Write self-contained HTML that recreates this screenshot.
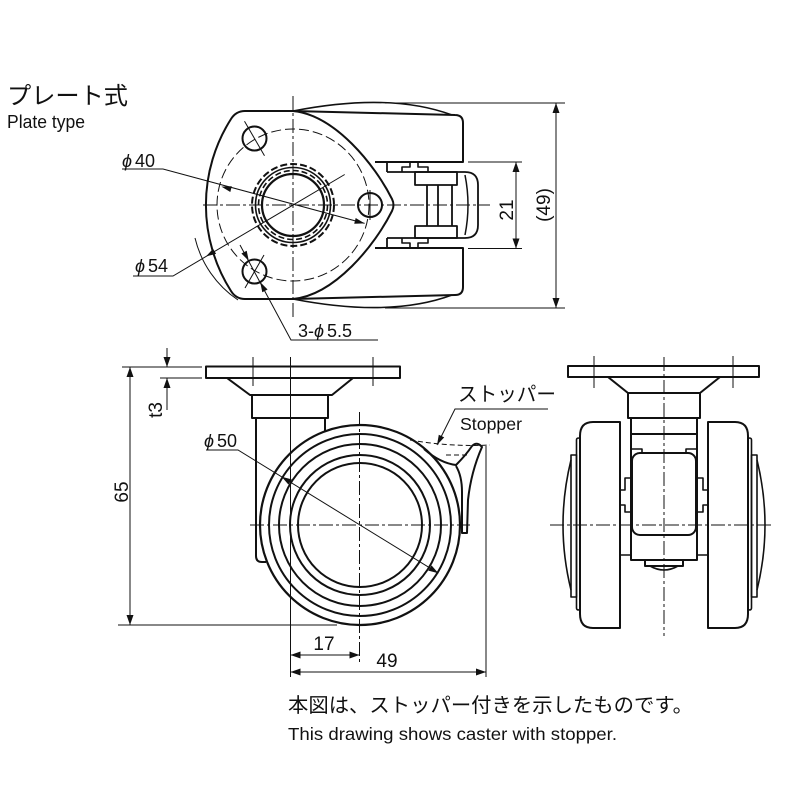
<!DOCTYPE html>
<html><head><meta charset="utf-8"><style>
html,body{margin:0;padding:0;background:#fff;}
svg{display:block;}
text{font-family:"Liberation Sans","DejaVu Sans","Noto Sans CJK JP",sans-serif;fill:#111;}
.jp{font-family:"Liberation Sans","Noto Sans CJK JP",sans-serif;}
</style></head><body>
<svg width="800" height="800" viewBox="0 0 800 800" xmlns="http://www.w3.org/2000/svg">
<rect width="800" height="800" fill="#fff"/>

<!-- ============ TOP VIEW ============ -->
<g fill="none" stroke="#111" stroke-width="1" stroke-dasharray="14 3 3 3">
  <line x1="203" y1="205" x2="490" y2="205"/>
  <line x1="293" y1="96" x2="293" y2="318"/>
</g>
<g fill="none" stroke="#111" stroke-width="2" stroke-linejoin="round">
  <path d="M245 111 L293 111 C335 115 375 165 392 199 Q395 205 392 211 C375 245 335 295 293 299 L245 299 Q236 299 231 291 A160 160 0 0 1 231 119 Q236 111 245 111 Z"/>
  <path d="M293 111 L455 115 Q463 115 463 123 L463 162 L375 162"/>
  <path d="M293 299 L455 295 Q463 295 463 287 L463 248 L375 248"/>
  <path d="M293 111 Q390 92 452 115" stroke-width="1.6"/>
  <path d="M293 299 Q390 318 452 295" stroke-width="1.6"/>
  <path d="M387 162 L387 172 M387 172 L465 172 Q478 172 478 185 L478 225 Q478 238 465 238 L387 238 M387 238 L387 248" stroke-width="1.8"/>
  <path d="M465 175 Q471 205 465 235" stroke-width="1.5"/>
  <path d="M402 172 L402 167 L410 167 L410 162 M418 162 L418 167 L428 167 L428 172" stroke-width="1.6"/>
  <path d="M402 238 L402 243 L410 243 L410 248 M418 248 L418 243 L428 243 L428 238" stroke-width="1.6"/>
  <rect x="415" y="172" width="42" height="13" stroke-width="1.8"/>
  <rect x="415" y="226" width="42" height="12" stroke-width="1.8"/>
  <path d="M427 185 L427 226 M438 185 L438 226 M452 185 L452 226" stroke-width="1.8"/>
  <circle cx="293" cy="205" r="41" stroke-dasharray="7 3"/>
  <circle cx="293" cy="205" r="37.5" stroke-width="1.6"/>
  <circle cx="293" cy="205" r="34.5" stroke-width="1.6" stroke-dasharray="6 3"/>
  <circle cx="293" cy="205" r="31" stroke-width="2.2"/>
  <circle cx="370" cy="205" r="12"/>
  <circle cx="254.5" cy="138.5" r="12"/>
  <circle cx="254.5" cy="271.5" r="12"/>
</g>
<g fill="none" stroke="#111" stroke-width="1">
  <circle cx="293" cy="205" r="76" stroke-dasharray="10 4"/>
  <line x1="244.5" y1="121.2" x2="264.5" y2="155.8"/>
  <line x1="245" y1="288" x2="264" y2="255"/>
  <line x1="370" y1="190" x2="370" y2="220"/>
  <path d="M122 169 L163 169 L364.6 223.4"/>
  <path d="M133 276 L173 276 L344.7 174.5"/>
  <path d="M195 238 A104 104 0 0 0 238 300"/>
  <path d="M378 340 L291 340 L240 245"/>
  <path d="M385 103 L565 103 M385 308 L565 308 M556 103 L556 308"/>
  <path d="M468 162 L522 162 M468 248.5 L522 248.5 M516 162 L516 248.5"/>
</g>
<g fill="#111" stroke="none">
  <polygon points="556,103 552.5,113 559.5,113"/>
  <polygon points="556,308 552.5,298 559.5,298"/>
  <polygon points="516,162 512.5,172 519.5,172"/>
  <polygon points="516,248.5 512.5,238.5 519.5,238.5"/>
  <polygon points="221.4,186.6 231.8,186.2 230.3,192.0"/>
  <polygon points="364.6,223.4 355.7,218.0 354.2,223.8"/>
  <polygon points="206,256.4 216.1,253.9 213.1,248.7"/>
  <polygon points="260.2,282.1 267.6,289.5 262.3,292.3"/>
  <polygon points="248.8,260.9 246.7,250.7 241.4,253.5"/>
</g>

<!-- ============ SIDE VIEW ============ -->
<g fill="none" stroke="#111" stroke-width="1" stroke-dasharray="14 3 3 3">
  <line x1="359.5" y1="412" x2="359.5" y2="665"/>
  <line x1="250" y1="525" x2="470" y2="525"/>
</g>
<g fill="none" stroke="#111" stroke-width="1">
  <line x1="253" y1="357" x2="253" y2="386"/>
  <line x1="373" y1="357" x2="373" y2="386"/>
  <line x1="290.5" y1="357" x2="290.5" y2="677"/>
  <line x1="486" y1="446" x2="486" y2="677"/>
  <path d="M410 440 Q450 447 490 445" stroke-dasharray="5 3"/>
  <path d="M446 455 L470 455" stroke-dasharray="5 3"/>
  <path d="M548 409 L455 409 L437 445"/>
  <path d="M122 367 L202 367 M118 625 L337 625 M130 367 L130 625"/>
  <path d="M160 378 L202 378 M167 348 L167 367 M167 410 L167 378"/>
  <path d="M206 450 L238 450 L438.4 573.2"/>
  <path d="M290.5 655 L359.5 655 M290.5 672 L486 672"/>
</g>
<g fill="none" stroke="#111" stroke-width="2" stroke-linejoin="round">
  <rect x="206" y="366.5" width="194" height="11.5"/>
  <path d="M227 378 L250 395 L332 395 L353 378"/>
  <rect x="252" y="395" width="76" height="23"/>
  <path d="M256 418 L256 556 Q256 562 262 562 L266 562"/>
  <path d="M325 418 L325 432"/>
  <circle cx="360" cy="525" r="100" stroke-width="2.2"/>
  <circle cx="360" cy="525" r="91"/>
  <circle cx="360" cy="525" r="81"/>
  <circle cx="360" cy="525" r="70"/>
  <circle cx="360" cy="525" r="62"/>
  <path d="M424 449 Q440 463 456 465 Q466 455 472 446 Q477 441 482 447 Q471 472 468 500 L467 533 L462 533 L462 492 Q462 476 456 466"/>
</g>
<g fill="#111" stroke="none">
  <polygon points="437,445 444.2,437.4 438.8,434.7"/>
  <polygon points="130,367 126.5,377 133.5,377"/>
  <polygon points="130,625 126.5,615 133.5,615"/>
  <polygon points="167,367 163.5,357 170.5,357"/>
  <polygon points="167,378 163.5,388 170.5,388"/>
  <polygon points="281.6,476.8 291.7,479.4 288.5,484.6"/>
  <polygon points="438.4,573.2 431.5,565.4 428.3,570.6"/>
  <polygon points="290.5,655 300.5,651.5 300.5,658.5"/>
  <polygon points="359.5,655 349.5,651.5 349.5,658.5"/>
  <polygon points="290.5,672 300.5,668.5 300.5,675.5"/>
  <polygon points="486,672 476,668.5 476,675.5"/>
</g>

<!-- ============ FRONT VIEW ============ -->
<g fill="none" stroke="#111" stroke-width="1" stroke-dasharray="14 3 3 3">
  <line x1="664" y1="357" x2="664" y2="636"/>
  <line x1="550" y1="525" x2="773" y2="525"/>
</g>
<g fill="none" stroke="#111" stroke-width="1">
  <line x1="594" y1="356" x2="594" y2="388"/>
  <line x1="733" y1="356" x2="733" y2="388"/>
</g>
<g fill="none" stroke="#111" stroke-width="2" stroke-linejoin="round">
  <rect x="568" y="366" width="191" height="11"/>
  <path d="M608 377 L628 393 L700 393 L720 377"/>
  <rect x="628" y="393" width="72" height="25"/>
  <path d="M631 418 L631 560 L697 560 L697 418 M631 434 L697 434"/>
  <rect x="632" y="453" width="64" height="82" rx="8"/>
  <path d="M632 449 L642 449 L642 453 M696 449 L686 449 L686 453" stroke-width="1.6"/>
  <path d="M631 478 L625 478 L625 490 L620 490 M620 505 L625 505 L625 512 L631 512" stroke-width="1.6"/>
  <path d="M697 478 L703 478 L703 490 L708 490 M708 505 L703 505 L703 512 L697 512" stroke-width="1.6"/>
  <path d="M620 555 L631 555 M697 555 L708 555" stroke-width="1.6"/>
  <path d="M620 422 L593 422 Q580 422 580 436 L580 614 Q580 628 593 628 L620 628 Z"/>
  <rect x="576.5" y="438" width="3.5" height="172" rx="2" stroke-width="1.6"/>
  <rect x="571" y="455" width="5.5" height="142" stroke-width="1.6"/>
  <path d="M571 460 Q555 525 571 590" stroke-width="1.6"/>
  <path d="M708 422 L735 422 Q748 422 748 436 L748 614 Q748 628 735 628 L708 628 Z"/>
  <rect x="748" y="438" width="3.5" height="172" rx="2" stroke-width="1.6"/>
  <rect x="751.5" y="455" width="5.5" height="142" stroke-width="1.6"/>
  <path d="M757 460 Q773 525 757 590" stroke-width="1.6"/>
  <path d="M645 560 L645 566 L683 566 L683 560"/>
  <path d="M650 566 Q664 574 678 566" stroke-width="1.6"/>
</g>

<!-- ============ TEXT ============ -->
<text class="jp" x="7" y="104" font-size="24" textLength="121" lengthAdjust="spacingAndGlyphs">プレート式</text>
<text x="7" y="128" font-size="18" textLength="78" lengthAdjust="spacingAndGlyphs">Plate type</text>

<text x="122" y="167" font-size="18"><tspan font-style="italic">ϕ</tspan><tspan dx="3">40</tspan></text>
<text x="135" y="272" font-size="18"><tspan font-style="italic">ϕ</tspan><tspan dx="3">54</tspan></text>
<text x="298" y="337" font-size="18">3-<tspan font-style="italic">ϕ</tspan><tspan dx="3">5.5</tspan></text>
<text x="204" y="447" font-size="18"><tspan font-style="italic">ϕ</tspan><tspan dx="3">50</tspan></text>

<text transform="translate(513,210) rotate(-90)" font-size="19" text-anchor="middle">21</text>
<text transform="translate(550,205) rotate(-90)" font-size="19" text-anchor="middle">(49)</text>
<text transform="translate(128,492) rotate(-90)" font-size="19" text-anchor="middle">65</text>
<text transform="translate(162,410) rotate(-90)" font-size="19" text-anchor="middle">t3</text>

<text x="324" y="650" font-size="19" text-anchor="middle">17</text>
<text x="387" y="667" font-size="19" text-anchor="middle">49</text>

<text class="jp" x="458" y="401" font-size="20" textLength="98" lengthAdjust="spacingAndGlyphs">ストッパー</text>
<text x="460" y="430" font-size="17.5" textLength="62" lengthAdjust="spacingAndGlyphs">Stopper</text>

<text class="jp" x="288" y="712" font-size="20" textLength="405" lengthAdjust="spacingAndGlyphs">本図は、ストッパー付きを示したものです。</text>
<text x="288" y="740" font-size="17.5" textLength="329" lengthAdjust="spacingAndGlyphs">This drawing shows caster with stopper.</text>
</svg>
</body></html>
